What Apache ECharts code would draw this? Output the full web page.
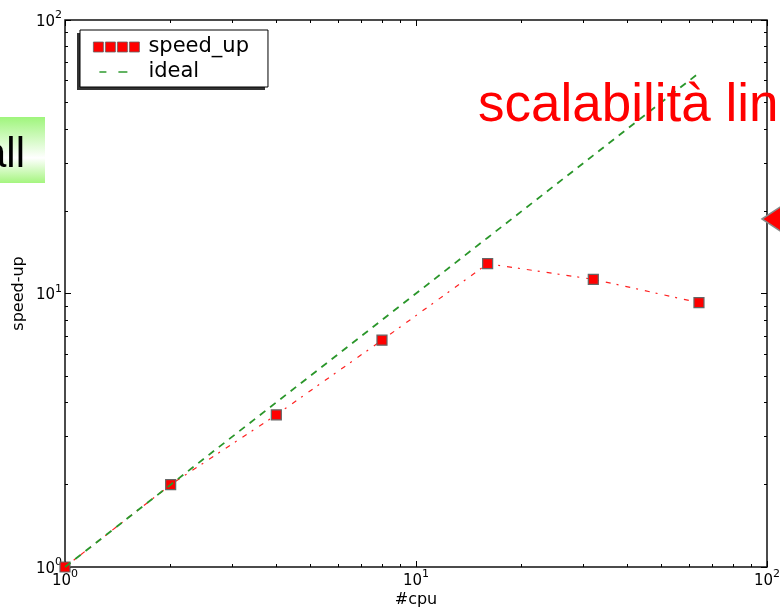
<!DOCTYPE html>
<html>
<head>
<meta charset="utf-8">
<script src="https://cdn.jsdelivr.net/npm/echarts@6/dist/echarts.min.js"></script>
<style>
  html, body { margin: 0; padding: 0; background: #fff; }
  #chart { width: 780px; height: 612px; }
</style>
</head>
<body>
<div id="chart"></div>
<script>
// Measured speed-up against number of CPUs, compared with ideal linear scaling
const cpus = [1, 2, 4, 8, 16, 32, 64];
const speedUp = [1, 2.0, 3.6, 6.75, 12.85, 11.27, 9.26];
const ideal = [1, 2, 4, 8, 16, 32, 64];

// Log-axis tick positions (decades get labels, the rest are minor marks)
const majorTicks = [1, 10, 100];
const minorTicks = [2, 3, 4, 5, 6, 7, 8, 9, 20, 30, 40, 50, 60, 70, 80, 90];

const FONT = 'DejaVu Sans';

const rich = {
  b: { fontFamily: FONT, fontSize: 15, color: '#000', padding: [4, 0, 0, 0] },
  s: { fontFamily: FONT, fontSize: 11, color: '#000', padding: [0, 0, 9, 0] }
};
const powLabel = v => '{b|10}{s|' + Math.round(Math.log10(v)) + '}';

function logAxis(position, ticks, tickLen, labelOpt, extra) {
  return Object.assign({
    type: 'log',
    logBase: 10,
    min: 1,
    max: 100,
    position: position,
    axisLine: { show: false },
    splitLine: { show: false },
    minorTick: { show: false },
    axisPointer: { show: false },
    axisTick: {
      show: true,
      inside: true,
      length: tickLen,
      customValues: ticks,
      lineStyle: { color: '#000', width: 1 }
    },
    axisLabel: labelOpt || { show: false }
  }, extra || {});
}

const xLabel = { show: true, customValues: majorTicks, formatter: powLabel, rich: rich, margin: 2 };
const yLabel = { show: true, customValues: majorTicks, formatter: powLabel, rich: rich, margin: 3 };

const nameStyle = { fontFamily: FONT, fontSize: 16, color: '#000' };

const squaresIcon = 'path://M0 0h10v10H0z M12 0h10v10H12z M24 0h10v10H24z M36 0h10v10H36z';
const dashesIcon = 'path://M0 0h0.01v0.01H0z M6 4.2h7v1.6H6z M25 4.2h9v1.6H25z M45.99 9.99h0.01v0.01h-0.01z';

const chart = echarts.init(document.getElementById('chart'), null, { renderer: 'canvas' });

chart.setOption({
  animation: false,
  backgroundColor: '#fff',
  grid: {
    left: 65, right: 13, top: 20, bottom: 45,
    show: true,
    borderColor: '#111',
    borderWidth: 1.5,
    backgroundColor: 'transparent',
    containLabel: false,
    outerBoundsMode: 'none'
  },
  xAxis: [
    logAxis('bottom', majorTicks, 6, xLabel, {
      name: '#cpu', nameLocation: 'middle', nameGap: 25,
      nameTextStyle: nameStyle, nameMoveOverlap: false
    }),
    logAxis('bottom', minorTicks, 3),
    logAxis('top', majorTicks, 6),
    logAxis('top', minorTicks, 3)
  ],
  yAxis: [
    logAxis('left', majorTicks, 6, yLabel, {
      name: 'speed-up', nameLocation: 'middle', nameGap: 38,
      nameTextStyle: nameStyle, nameMoveOverlap: false
    }),
    logAxis('left', minorTicks, 3),
    logAxis('right', majorTicks, 6),
    logAxis('right', minorTicks, 3)
  ],
  legend: {
    orient: 'vertical',
    left: 80,
    top: 30,
    padding: [6.5, 19, 4.5, 13],
    itemWidth: 46,
    itemHeight: 10,
    itemGap: 4,
    selectedMode: false,
    backgroundColor: '#fff',
    borderColor: '#000',
    borderWidth: 1,
    textStyle: { fontFamily: FONT, fontSize: 21, color: '#000', lineHeight: 21, padding: [0, 0, 0, 4] },
    data: [
      { name: 'speed_up', icon: squaresIcon,
        itemStyle: { color: '#ff0000', borderColor: '#666', borderWidth: 0.8 } },
      { name: 'ideal', icon: dashesIcon,
        itemStyle: { color: '#2f9a2f', borderWidth: 0 } }
    ]
  },
  series: [
    {
      name: 'speed_up',
      type: 'line',
      xAxisIndex: 0,
      yAxisIndex: 0,
      data: cpus.map((c, i) => [c, speedUp[i]]),
      symbol: 'rect',
      symbolSize: 10,
      showSymbol: true,
      itemStyle: { color: '#ff0000', borderColor: '#666', borderWidth: 1.2 },
      lineStyle: { color: '#ff2020', width: 1.2, type: [5, 6, 2, 7] },
      z: 2
    },
    {
      name: 'ideal',
      type: 'line',
      xAxisIndex: 0,
      yAxisIndex: 0,
      data: cpus.map((c, i) => [c, ideal[i]]),
      symbol: 'none',
      itemStyle: { color: '#2f9a2f' },
      lineStyle: { color: '#2a962a', width: 1.8, type: [7, 6] },
      z: 3
    }
  ],
  graphic: [
    // drop shadow behind the legend box
    { type: 'rect', z: 3, shape: { x: 77, y: 33, width: 188, height: 57 }, style: { fill: '#333' } },
    // slide callout on the left
    {
      type: 'rect', z: 20,
      shape: { x: 0, y: 117, width: 45, height: 66 },
      style: {
        fill: new echarts.graphic.LinearGradient(0, 0, 0, 1, [
          { offset: 0, color: '#9ff57c' },
          { offset: 0.62, color: '#ffffff' },
          { offset: 1, color: '#a5f57f' }
        ])
      }
    },
    {
      type: 'text', z: 21, x: 25, y: 134,
      style: { text: 'all', fill: '#000', font: '42px "Liberation Sans", Arial, sans-serif',
               textAlign: 'right', textVerticalAlign: 'top' }
    },
    {
      type: 'text', z: 21, x: 478, y: 80,
      style: { text: 'scalabilità lineare', fill: '#ff0000', font: '53px "Liberation Sans", Arial, sans-serif',
               textAlign: 'left', textVerticalAlign: 'top' }
    },
    {
      type: 'polygon', z: 21,
      shape: { points: [[762, 219], [800, 194], [800, 244]] },
      style: { fill: '#ff0000', stroke: '#888', lineWidth: 1.5 }
    }
  ]
});
</script>
</body>
</html>
